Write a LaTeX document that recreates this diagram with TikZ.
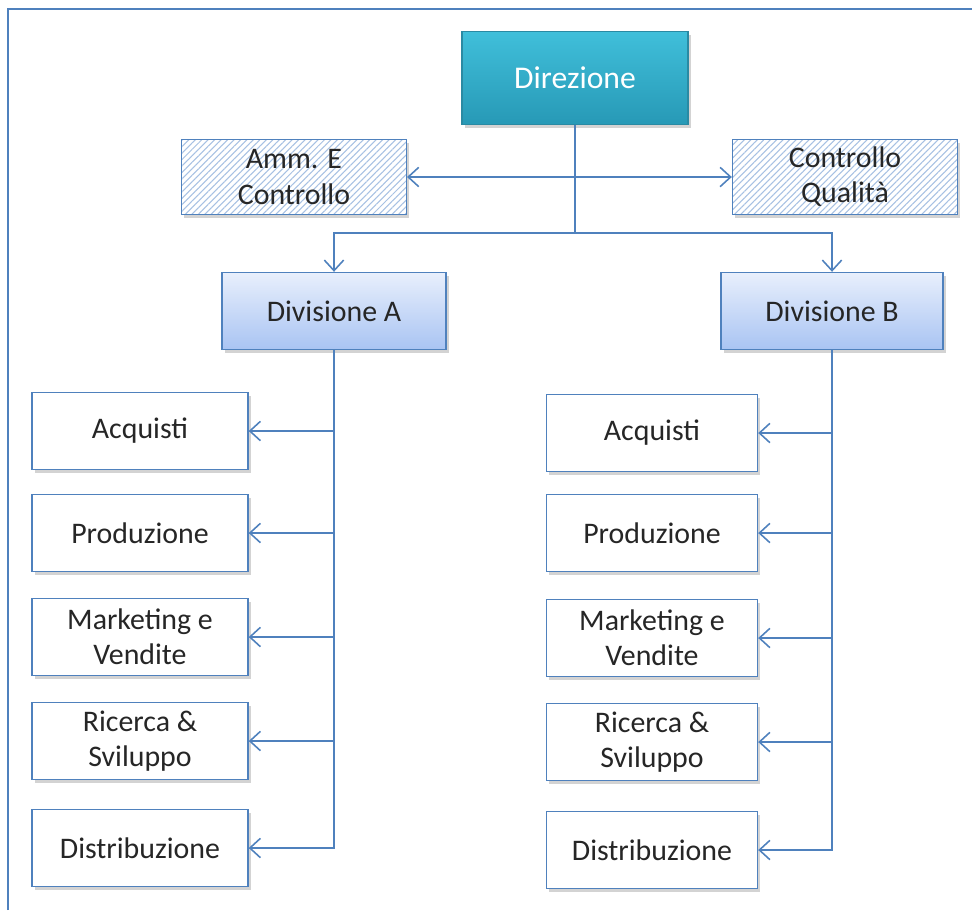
\documentclass[tikz,border=0pt]{standalone}
\usepackage{fontspec}
\setmainfont{Carlito}
\usepackage{tikz}
\usetikzlibrary{arrows.meta,shadows,patterns.meta}

\definecolor{lineblue}{HTML}{4F81BD}
\definecolor{teal1}{HTML}{40BFDA}
\definecolor{teal2}{HTML}{2799B6}
\definecolor{tealdark}{HTML}{2A8AA3}
\definecolor{divtop}{HTML}{E8EFFC}
\definecolor{divbot}{HTML}{A9C4F3}
\definecolor{hatch}{HTML}{A7C1E3}

\begin{document}
\begin{tikzpicture}[x=0.02cm,y=-0.02cm,
	every node/.style={font=\fontsize{17}{20}\selectfont, text=black!85, align=center},
	box/.style={draw=lineblue, line width=0.8pt, fill=white, minimum height=1.54cm,
		drop shadow={opacity=0.35, shadow xshift=1.5pt, shadow yshift=-2pt}},
	hatchbox/.style={box, minimum width=4.5cm, minimum height=1.5cm, preaction={fill=white},
		pattern={Lines[angle=45,distance=2.6pt,line width=0.6pt]}, pattern color=hatch},
	divbox/.style={box, minimum width=4.48cm, top color=divtop, bottom color=divbot},
	line/.style={draw=lineblue, line width=0.9pt},
	arr/.style={line, -{Straight Barb[length=6pt,width=11pt,line width=0.9pt]}},
	darr/.style={line, {Straight Barb[length=6pt,width=11pt,line width=0.9pt]}-{Straight Barb[length=6pt,width=11pt,line width=0.9pt]}}]
	\useasboundingbox (0,0) rectangle (972,910);
	\draw[lineblue, line width=1.2pt] (8,910) -- (8,9) -- (972,9);

	\node (dir) [box, draw=tealdark, top color=teal1, bottom color=teal2, minimum width=4.52cm, minimum height=1.86cm, text=white, font=\fontsize{18}{21}\selectfont] at (575,78) {Direzione};
	\node (amm) [hatchbox] at (294,177) {Amm. E\\Controllo};
	\node (cq) [hatchbox] at (845,177) {Controllo\\Qualità};
	\node (diva) [divbox] at (334,311) {Divisione A};
	\node (divb) [divbox, minimum width=4.44cm] at (832,311) {Divisione B};

	\node (la1) [box, minimum width=4.32cm] at (140,431) {Acquisti};
	\node (la2) [box, minimum width=4.32cm] at (140,533) {Produzione};
	\node (la3) [box, minimum width=4.32cm] at (140,637) {Marketing e\\Vendite};
	\node (la4) [box, minimum width=4.32cm] at (140,741) {Ricerca \&\\Sviluppo};
	\node (la5) [box, minimum width=4.32cm] at (140,848) {Distribuzione};

	\node (rb1) [box, minimum width=4.22cm] at (652,433) {Acquisti};
	\node (rb2) [box, minimum width=4.22cm] at (652,533) {Produzione};
	\node (rb3) [box, minimum width=4.22cm] at (652,638) {Marketing e\\Vendite};
	\node (rb4) [box, minimum width=4.22cm] at (652,742) {Ricerca \&\\Sviluppo};
	\node (rb5) [box, minimum width=4.22cm] at (652,850) {Distribuzione};

	\coordinate (split) at (575,233);
	\draw[line] (dir.south) -- (split);
	\draw[darr] (amm.east) -- (cq.west);
	\draw[arr] (split) -| (diva.north);
	\draw[arr] (split) -| (divb.north);

	\draw[arr] (diva.south) -- (diva.south |- la5.east) -- (la5.east);
	\draw[arr] (divb.south) -- (divb.south |- rb5.east) -- (rb5.east);
	\foreach \i in {1,2,3,4} {
		\draw[arr] (diva.south |- la\i.east) -- (la\i.east);
		\draw[arr] (divb.south |- rb\i.east) -- (rb\i.east);
	}
\end{tikzpicture}
\end{document}
